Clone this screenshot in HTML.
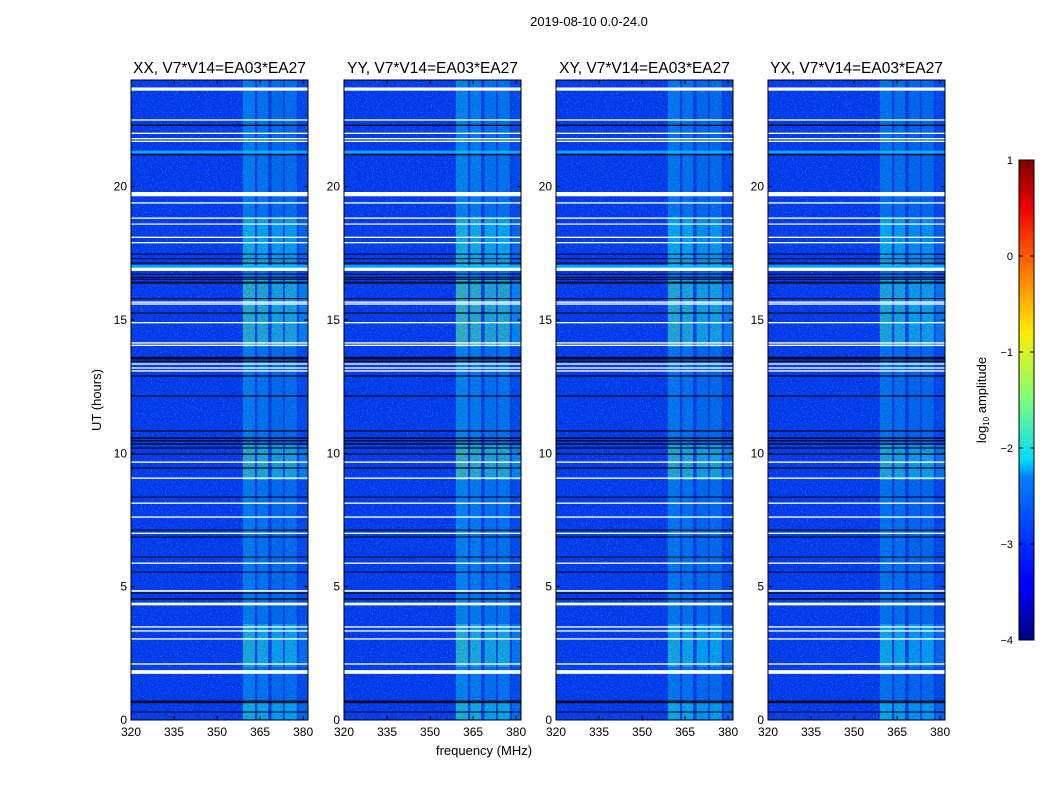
<!DOCTYPE html>
<html><head><meta charset="utf-8">
<style>
html,body{margin:0;padding:0;background:#fff;}
svg{display:block;font-family:"Liberation Sans",sans-serif;}
</style></head>
<body>
<svg id="fig" width="1050" height="800" viewBox="0 0 1050 800" xmlns="http://www.w3.org/2000/svg">
<defs>
  <filter id="speckle" x="0" y="0" width="100%" height="100%">
    <feTurbulence type="fractalNoise" baseFrequency="0.75" numOctaves="1" seed="3" result="n"/>
    <feColorMatrix in="n" type="matrix" values="0 0 0 0 0  0 0 0 0 0.1  0 0 0 0 0.35  0 0 0 -2.4 1.4"/>
  </filter>
  <filter id="speckle2" x="0" y="0" width="100%" height="100%">
    <feTurbulence type="fractalNoise" baseFrequency="0.8" numOctaves="1" seed="9" result="n"/>
    <feColorMatrix in="n" type="matrix" values="0 0 0 0 0.2  0 0 0 0 0.8  0 0 0 0 1  0 0 0 3 -1.6"/>
  </filter>
  <linearGradient id="jet" x1="0" y1="1" x2="0" y2="0">
    <stop offset="0" stop-color="#00007f"/>
    <stop offset="0.11" stop-color="#0000ff"/>
    <stop offset="0.125" stop-color="#0000ff"/>
    <stop offset="0.34" stop-color="#0080ff"/>
    <stop offset="0.375" stop-color="#00dcfe"/>
    <stop offset="0.5" stop-color="#7dff7a"/>
    <stop offset="0.64" stop-color="#ffee00"/>
    <stop offset="0.8" stop-color="#ff5a00"/>
    <stop offset="0.9" stop-color="#ee0000"/>
    <stop offset="1" stop-color="#7f0000"/>
  </linearGradient>
</defs>
<text x="589" y="26" font-size="13" text-anchor="middle">2019-08-10 0.0-24.0</text>
<g id="panels"></g>
<text transform="translate(101,400) rotate(-90)" font-size="13" text-anchor="middle">UT (hours)</text>
<text x="484" y="755" font-size="13" text-anchor="middle">frequency (MHz)</text>
<g id="colorbar">
  <rect x="1019" y="160" width="15" height="480" fill="url(#jet)" stroke="#000" stroke-width="1"/>
</g>
<text transform="translate(986,400) rotate(-90)" font-size="13" text-anchor="middle">log<tspan font-size="8" dy="3">10</tspan><tspan dy="-3"> amplitude</tspan></text>
</svg>
<script>
const panelTitles = ["XX, V7*V14=EA03*EA27","YY, V7*V14=EA03*EA27","XY, V7*V14=EA03*EA27","YX, V7*V14=EA03*EA27"];
const xTicks = [320,335,350,365,380];
const yTicks = [0,5,10,15,20];
const cbTicks = [1,0,-1,-2,-3,-4];
const cbLabels = ["1","0","\u22121","\u22122","\u22123","\u22124"];
// frequency bands of RFI [f0, f1, level 0..1]
const bandF0 = [359.0, 364.0, 369.0, 373.6, 378.5];
const bandF1 = [363.2, 367.8, 373.0, 377.8, 381.7];
const bandLevel = [0.45, 0.4, 0.33, 0.35, 0.1];
// per-panel band strength
const panelStrength = [0.9, 1.0, 0.85, 0.8];
// time windows of extra brightness
const boostH0 = [14.0, 9.0, 2.0, 17.0, 0.0];
const boostH1 = [16.5, 10.3, 3.6, 18.8, 0.7];
const boostAdd = [0.3, 0.3, 0.2, 0.12, 0.15];
// flagged rows (white)
const whiteH = [23.66,22.5,22.0,21.8,21.7,19.72,19.39,18.82,18.6,18.1,17.9,16.9,15.67,15.6,14.9,14.14,14.05,13.35,13.2,13.09,9.67,9.07,8.13,7.61,7.0,5.88,4.84,4.35,3.49,3.34,3.04,2.1,1.8];
const whiteW = [0.12,0.05,0.05,0.05,0.05,0.16,0.05,0.05,0.04,0.05,0.05,0.12,0.05,0.05,0.05,0.05,0.05,0.05,0.05,0.05,0.05,0.05,0.05,0.05,0.05,0.05,0.06,0.1,0.05,0.05,0.05,0.05,0.14];
// dark rows
const blackH = [22.3,21.2,17.47,17.3,17.13,16.72,16.6,16.53,16.4,15.8,15.26,13.57,13.45,12.9,12.15,10.84,10.57,10.47,10.35,10.2,9.97,9.45,8.36,7.12,6.86,6.11,5.55,4.76,4.54,0.68,0.3];
const blackW = [0.05,0.05,0.04,0.04,0.05,0.04,0.04,0.04,0.08,0.04,0.05,0.1,0.05,0.05,0.05,0.05,0.06,0.05,0.05,0.05,0.05,0.05,0.04,0.04,0.04,0.04,0.04,0.05,0.05,0.1,0.04];
// bright full-width rows
const cyanH = [21.3, 17.0];
const cyanW = [0.1, 0.12];

const panelX = [131,344,556,768];
const PW = 177, PT = 80, PB = 720;
const FMIN = 320, FMAX = 381.7, HMAX = 24;
const NS = "http://www.w3.org/2000/svg";
function xs(p,f){return panelX[p] + (f-FMIN)/(FMAX-FMIN)*PW;}
function ys(h){return PB - h/HMAX*(PB-PT);}
function jet(v){
  v=Math.max(0,Math.min(1,v));
  const c=x=>Math.round(255*Math.max(0,Math.min(1,x)));
  return `rgb(${c(1.5-Math.abs(4*v-3))},${c(1.5-Math.abs(4*v-2))},${c(1.5-Math.abs(4*v-1))})`;
}
function mk(tag,attrs,parent){const e=document.createElementNS(NS,tag);for(const k in attrs)e.setAttribute(k,attrs[k]);parent.appendChild(e);return e;}
const root=document.getElementById('panels');
for(let p=0;p<4;p++){
  const g=mk('g',{},root);
  
  
  const bg=mk('rect',{x:panelX[p],y:PT,width:PW,height:PB-PT,fill:jet(0.17)},g);
  
  
  const sp=mk('rect',{x:panelX[p],y:PT,width:PW,height:PB-PT,fill:'#000',filter:'url(#speckle)'},g);
  
  
  for(let i=0;i<bandF0.length;i++){
    const x0=xs(p,bandF0[i]),x1=xs(p,bandF1[i]);
    const r=mk('rect',{x:x0,y:PT,width:x1-x0,height:PB-PT,fill:jet(0.17+bandLevel[i]*panelStrength[p]*0.35),opacity:0.5},g);
    
    
    for(let j=0;j<boostH0.length;j++){
      const y0=ys(boostH1[j]),y1=ys(boostH0[j]);
      const b=mk('rect',{x:x0,y:y0,width:x1-x0,height:y1-y0,fill:jet(0.17+(bandLevel[i]+boostAdd[j])*panelStrength[p]*0.45),opacity:0.4},g);
      
      
    }
  }
  const sp2=mk('rect',{x:panelX[p],y:PT,width:PW,height:PB-PT,fill:'#000',filter:'url(#speckle2)',opacity:0.4},g);
  
  
  const sp3=mk('rect',{x:xs(p,bandF0[0]),y:PT,width:xs(p,FMAX)-xs(p,bandF0[0]),height:PB-PT,fill:'#000',filter:'url(#speckle)',opacity:0.6},g);
  
  
  for(let i=0;i<cyanH.length;i++){
    const r=mk('rect',{x:panelX[p],y:ys(cyanH[i]+cyanW[i]/2),width:PW,height:cyanW[i]/HMAX*(PB-PT),fill:jet(0.32),opacity:0.8},g);
    
    
  }
  for(let i=0;i<blackH.length;i++){
    const r=mk('rect',{x:panelX[p],y:ys(blackH[i]+blackW[i]/2),width:PW,height:blackW[i]/HMAX*(PB-PT),fill:'#000',opacity:0.85},g);
    
    
  }
  for(let i=0;i<whiteH.length;i++){
    const r=mk('rect',{x:panelX[p],y:ys(whiteH[i]+whiteW[i]/2),width:PW,height:Math.max(1.2,whiteW[i]/HMAX*(PB-PT)),fill:'#fff'},g);
    
    
  }
  const fr=mk('rect',{x:panelX[p],y:PT,width:PW,height:PB-PT,fill:'none',stroke:'#000','stroke-width':1},g);
  
  
  const t=mk('text',{x:panelX[p]+PW/2,y:73,'font-size':15.5,'text-anchor':'middle'},g);
  t.textContent=panelTitles[p];
  
  
  xTicks.forEach(f=>{
    const x=xs(p,f);
    mk('line',{x1:x,y1:PB,x2:x,y2:PB-4,stroke:'#000'},g);
    mk('line',{x1:x,y1:PT,x2:x,y2:PT+4,stroke:'#000'},g);
    const l=mk('text',{x:x,y:PB+16,'font-size':12,'text-anchor':'middle'},g);
    l.textContent=f;
    
    
  });
  yTicks.forEach(h=>{
    const y=ys(h);
    mk('line',{x1:panelX[p],y1:y,x2:panelX[p]+4,y2:y,stroke:'#000'},g);
    mk('line',{x1:panelX[p]+PW,y1:y,x2:panelX[p]+PW-4,y2:y,stroke:'#000'},g);
    const l=mk('text',{x:panelX[p]-4,y:y+4,'font-size':12,'text-anchor':'end'},g);
    l.textContent=h;
    
    
  });
}
const cb=document.getElementById('colorbar');
cbTicks.forEach((v,i)=>{
  const y=160+(1-v)/5*480;
  mk('line',{x1:1019,y1:y,x2:1023,y2:y,stroke:'#000'},cb);
  mk('line',{x1:1034,y1:y,x2:1030,y2:y,stroke:'#000'},cb);
  const l=mk('text',{x:1013,y:y+4,'font-size':11,'text-anchor':'end'},cb);
  l.textContent=cbLabels[i];
  
  
});
</script>
</body></html>
